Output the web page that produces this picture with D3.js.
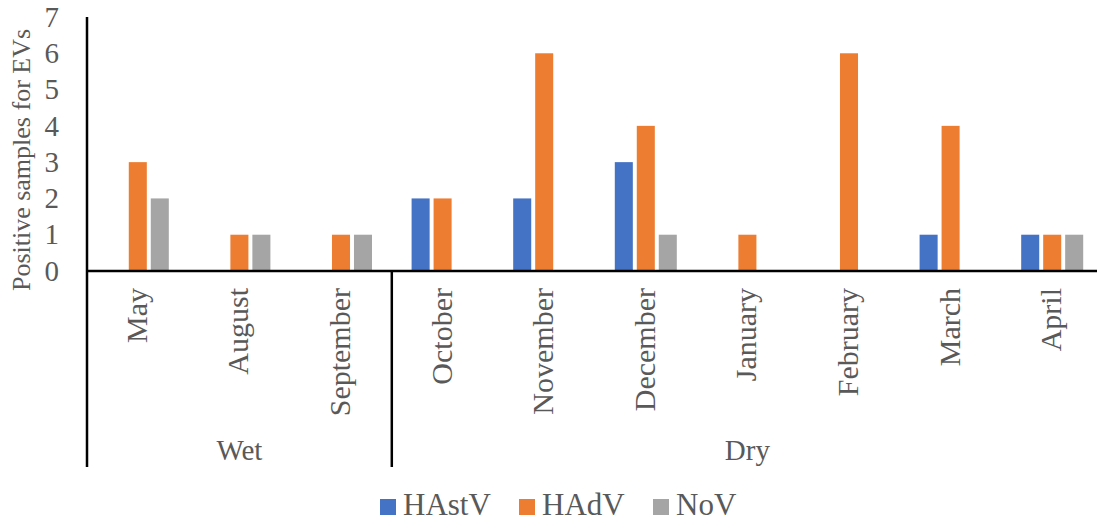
<!DOCTYPE html>
<html>
<head>
<meta charset="utf-8">
<script src="https://cdn.jsdelivr.net/npm/d3@7"></script>
<style>
  body { margin: 0; background: #fff; }
  svg { display: block; font-family: "Liberation Serif", "Times New Roman", serif; }
</style>
</head>
<body>
<div id="chart"></div>
<script>
const chartWidth = 1097;
const chartHeight = 522;

// data
const months = ["May", "August", "September", "October", "November", "December", "January", "February", "March", "April"];
const seasons = [
  { name: "Wet", from: 0, to: 2 },
  { name: "Dry", from: 3, to: 9 }
];
const seriesNames = ["HAstV", "HAdV", "NoV"];
const hastv = [0, 0, 0, 2, 2, 3, 0, 0, 1, 1];
const hadv  = [3, 1, 1, 2, 6, 4, 1, 6, 4, 1];
const nov   = [2, 1, 1, 0, 0, 1, 0, 0, 0, 1];
const seriesValues = [hastv, hadv, nov];
const yTicks = [0, 1, 2, 3, 4, 5, 6, 7];
const colors = ["#4472C4", "#ED7D31", "#A5A5A5"];

const textColor = "#595959";
const serif = "Liberation Serif, Times New Roman, serif";
const plotLeft = 87;
const plotRight = 1103;   // runs a bit past the window, like the original
const baseY = 271;
const topY = 17;
const bottomY = 467;

const svg = d3.select("#chart")
  .append("svg")
  .attr("width", chartWidth)
  .attr("height", chartHeight)
  .attr("font-family", serif);

const x = d3.scaleBand()
  .domain(months)
  .range([plotLeft, plotRight])
  .padding(0);

const xInner = d3.scaleBand()
  .domain(seriesNames)
  .range([-31, 31])
  .paddingInner(0.18)
  .paddingOuter(0);

const y = d3.scaleLinear()
  .domain([0, 7])
  .range([baseY, topY]);

// Y axis labels
const yAxis = d3.axisLeft(y)
  .tickValues(yTicks)
  .tickFormat(d3.format("d"))
  .tickSize(0)
  .tickPadding(0);

const yg = svg.append("g")
  .attr("transform", "translate(" + (plotLeft - 28) + ",0)")
  .call(yAxis);
// axis() writes sans-serif 10 on the group, put ours back
yg.attr("font-family", serif).attr("font-size", 29);
yg.select(".domain").remove();
yg.selectAll("text")
  .attr("fill", textColor)
  .attr("font-family", serif);

svg.append("text")
  .attr("transform", "translate(30,160) rotate(-90)")
  .attr("text-anchor", "middle")
  .attr("fill", textColor)
  .attr("font-size", 26)
  .text("Positive samples for EVs");

// bars
const bars = [];
months.forEach((m, i) => {
  seriesNames.forEach((s, j) => {
    bars.push({ month: m, series: s, value: seriesValues[j][i], color: colors[j] });
  });
});

svg.append("g")
  .selectAll("rect")
  .data(bars.filter(d => d.value > 0))
  .enter()
  .append("rect")
    .attr("x", d => x(d.month) + x.bandwidth() / 2 + xInner(d.series))
    .attr("y", d => y(d.value))
    .attr("width", xInner.bandwidth())
    .attr("height", d => y(0) - y(d.value))
    .attr("fill", d => d.color);

// axis lines
svg.append("line")
  .attr("x1", plotLeft).attr("x2", plotRight)
  .attr("y1", baseY).attr("y2", baseY)
  .attr("stroke", "#000").attr("stroke-width", 2.5);

svg.append("line")
  .attr("x1", plotLeft).attr("x2", plotLeft)
  .attr("y1", topY).attr("y2", bottomY)
  .attr("stroke", "#000").attr("stroke-width", 2.5);

// season dividers
svg.selectAll(".divider")
  .data(seasons)
  .enter()
  .append("line")
    .attr("class", "divider")
    .attr("x1", d => x(months[d.to]) + x.bandwidth())
    .attr("x2", d => x(months[d.to]) + x.bandwidth())
    .attr("y1", baseY)
    .attr("y2", bottomY)
    .attr("stroke", "#000").attr("stroke-width", 2.5);

// month labels
svg.selectAll(".month")
  .data(months)
  .enter()
  .append("text")
    .attr("class", "month")
    .attr("transform", d => "translate(" + (x(d) + x.bandwidth() / 2) + ",288) rotate(-90)")
    .attr("text-anchor", "end")
    .attr("dy", "0.3em")
    .attr("fill", textColor)
    .attr("font-size", 30)
    .text(d => d);

// season labels
svg.selectAll(".season")
  .data(seasons)
  .enter()
  .append("text")
    .attr("class", "season")
    .attr("x", d => (x(months[d.from]) + x(months[d.to]) + x.bandwidth()) / 2)
    .attr("y", 460)
    .attr("text-anchor", "middle")
    .attr("fill", textColor)
    .attr("font-size", 29)
    .text(d => d.name);

// legend
const legendX = [380, 519, 653];
const legend = svg.selectAll(".legend")
  .data(seriesNames)
  .enter()
  .append("g")
    .attr("class", "legend")
    .attr("transform", (d, i) => "translate(" + legendX[i] + ",499)");

legend.append("rect")
  .attr("width", 16).attr("height", 16)
  .attr("fill", (d, i) => colors[i]);

legend.append("text")
  .attr("x", 23)
  .attr("y", 16)
  .attr("fill", textColor)
  .attr("font-size", 31)
  .text(d => d);
</script>
</body>
</html>
